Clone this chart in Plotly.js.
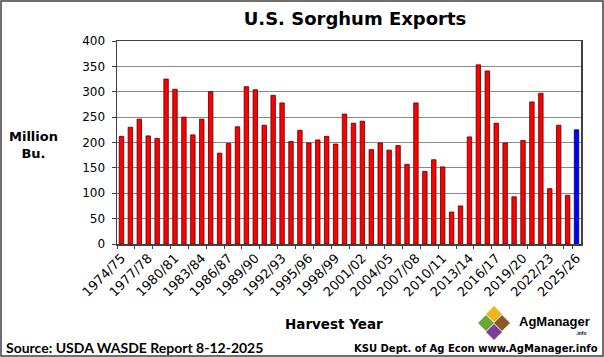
<!DOCTYPE html>
<html>
<head>
<meta charset="utf-8">
<script src="https://cdn.plot.ly/plotly-3.0.1.min.js"></script>
<style>html,body{margin:0;padding:0;background:#fff;}#chart{width:604px;height:357px;}</style>
</head>
<body>
<div id="chart"></div>
<script>
var categories = ["1974/75","1975/76","1976/77","1977/78","1978/79","1979/80","1980/81","1981/82","1982/83","1983/84",
"1984/85","1985/86","1986/87","1987/88","1988/89","1989/90","1990/91","1991/92","1992/93","1993/94",
"1994/95","1995/96","1996/97","1997/98","1998/99","1999/00","2000/01","2001/02","2002/03","2003/04",
"2004/05","2005/06","2006/07","2007/08","2008/09","2009/10","2010/11","2011/12","2012/13","2013/14",
"2014/15","2015/16","2016/17","2017/18","2018/19","2019/20","2020/21","2021/22","2022/23","2023/24",
"2024/25","2025/26"];
var exportsMilBu = [212,230,246,213,208,325,305,250,215,246,
300,179,198,231,310,304,234,293,278,202,
224,199,205,212,197,256,238,242,186,199,
185,194,157,278,143,166,152,63,75,211,
353,341,238,199,93,204,280,297,109,234,
96,225];
var projectedYear = "2025/26";
var yTickVals = [0,50,100,150,200,250,300,350,400];
var labelCategories = categories.filter(function(c,i){return i%3===0;});
var tickMarkCategories = categories.filter(function(c,i){return i%2===0;});

var W=604,H=357,L=117,R=23,T=41,B=113;
var pw=W-L-R, ph=H-T-B;
function px(x){return (x-L)/pw;}
function py(y){return (H-B-y)/ph;}

var fillColors = categories.map(function(c){return c===projectedYear?'#0000FF':'#FF0000';});
var lineColors = categories.map(function(c){return c===projectedYear?'#000050':'#500000';});

var traces = [{
  type:'bar', x:categories, y:exportsMilBu,
  marker:{color:fillColors, line:{color:lineColors, width:0.8}},
  hoverinfo:'x+y', showlegend:false
},{
  type:'scatter', mode:'none', x:categories, y:categories.map(function(){return null;}),
  xaxis:'x2', yaxis:'y', hoverinfo:'skip', showlegend:false
}];

function diamond(cx,cy,r){
  return 'M '+px(cx)+' '+py(cy-r)+' L '+px(cx+r)+' '+py(cy)+' L '+px(cx)+' '+py(cy+r)+' L '+px(cx-r)+' '+py(cy)+' Z';
}
var shapes = [
  {type:'rect', xref:'paper', yref:'paper', x0:px(1), x1:px(603), y0:py(356), y1:py(1), line:{color:'#404040', width:1.5}, fillcolor:'rgba(0,0,0,0)', layer:'above'},
  {type:'path', xref:'paper', yref:'paper', path:diamond(494,314,8), fillcolor:'#F2B51C', line:{width:0}},
  {type:'path', xref:'paper', yref:'paper', path:diamond(486,323,8), fillcolor:'#6CA532', line:{width:0}},
  {type:'path', xref:'paper', yref:'paper', path:diamond(502,323,8), fillcolor:'#8A5A2B', line:{width:0}},
  {type:'path', xref:'paper', yref:'paper', path:diamond(494,332,8), fillcolor:'#7B3F98', line:{width:0}}
];

var bold = 'DejaVu Sans';
var annotations = [
  {xref:'paper', yref:'paper', x:px(33), y:py(145), text:'<b>Million<br>Bu.</b>', showarrow:false, align:'center', xanchor:'center', yanchor:'middle', font:{family:bold, size:13, color:'#000'}},
  {xref:'paper', yref:'paper', x:px(334), y:py(324), text:'<b>Harvest Year</b>', showarrow:false, xanchor:'center', yanchor:'middle', font:{family:bold, size:13.5, color:'#000'}},
  {xref:'paper', yref:'paper', x:px(4), y:py(347), text:'<b>Source: USDA WASDE Report 8-12-2025</b>', showarrow:false, xanchor:'left', yanchor:'middle', font:{family:'Lato', size:14, color:'#000'}},
  {xref:'paper', yref:'paper', x:px(600), y:py(348), text:'<b>KSU Dept. of Ag Econ www.AgManager.info</b>', showarrow:false, xanchor:'right', yanchor:'middle', font:{family:bold, size:10, color:'#000'}},
  {xref:'paper', yref:'paper', x:px(517), y:py(321), text:'<b>AgManager</b>', showarrow:false, xanchor:'left', yanchor:'middle', font:{family:'Liberation Sans', size:13, color:'#000'}},
  {xref:'paper', yref:'paper', x:px(589), y:py(333), text:'<b>.info</b>', showarrow:false, xanchor:'right', yanchor:'middle', font:{family:'Liberation Sans', size:5, color:'#000'}}
];

var layout = {
  width:W, height:H,
  margin:{l:L, r:R, t:T, b:B, pad:0},
  paper_bgcolor:'#fff', plot_bgcolor:'#fff',
  title:{text:'<b>U.S. Sorghum Exports</b>', x:355/W, xanchor:'center', xref:'container', y:1-19/H, yanchor:'middle', yref:'container', font:{family:bold, size:18, color:'#000'}},
  bargap:0.5,
  showlegend:false,
  xaxis:{type:'category', tickmode:'array', tickvals:labelCategories, ticktext:labelCategories, ticks:'', tickangle:-45,
         tickfont:{family:'DejaVu Sans', size:13, color:'#000'}, showgrid:false, showline:true, mirror:true, linecolor:'#404040', linewidth:1.5, zeroline:false,
         range:[-0.5, categories.length-0.5]},
  xaxis2:{type:'category', overlaying:'x', matches:'x', tickmode:'array', tickvals:tickMarkCategories, ticks:'outside', tickson:'boundaries', ticklen:4, tickcolor:'#404040', tickwidth:1,
         showticklabels:false, showgrid:false, showline:false, zeroline:false, side:'bottom'},
  yaxis:{range:[0,400], tickmode:'array', tickvals:yTickVals, ticks:'outside', ticklen:4, tickcolor:'#404040', tickwidth:1,
         tickfont:{family:'DejaVu Sans', size:12, color:'#000'}, showgrid:true, gridcolor:'#8a8a8a', gridwidth:1.2,
         showline:true, mirror:true, linecolor:'#404040', linewidth:1.5, zeroline:false, ticklabelstandoff:4},
  shapes:shapes,
  annotations:annotations
};
Plotly.newPlot('chart', traces, layout, {displayModeBar:false, staticPlot:true});
</script>
</body>
</html>
